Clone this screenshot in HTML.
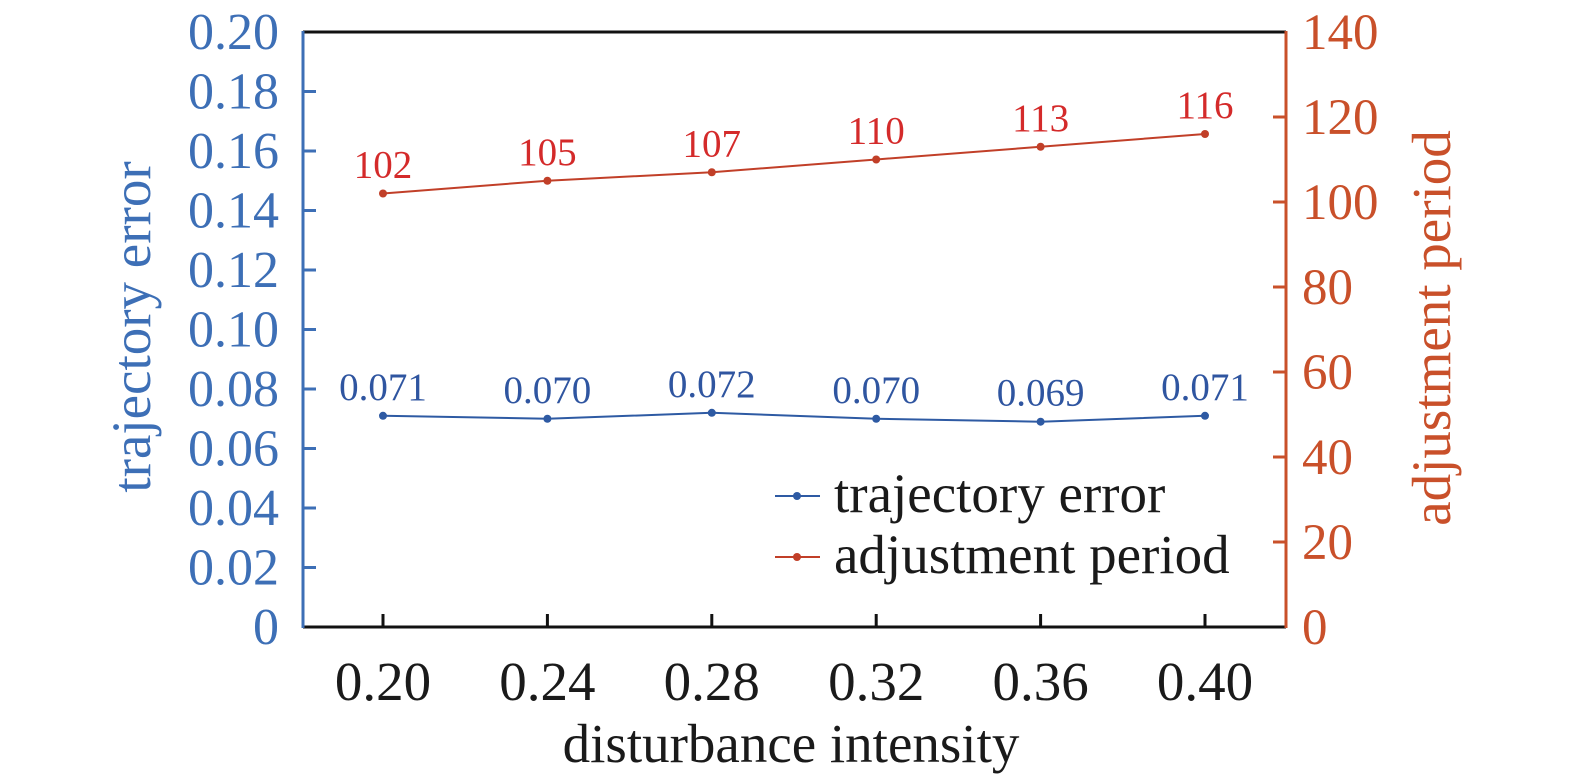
<!DOCTYPE html>
<html><head><meta charset="utf-8"><style>
body{margin:0;background:#fff}
svg{display:block;font-family:"Liberation Serif",serif}
</style></head><body>
<svg id="c" width="1575" height="778"></svg>
<script>
const categories=["0.20","0.24","0.28","0.32","0.36","0.40"];
const errorValues=[0.071,0.070,0.072,0.070,0.069,0.071];
const periodValues=[102,105,107,110,113,116];
const leftTicks=["0","0.02","0.04","0.06","0.08","0.10","0.12","0.14","0.16","0.18","0.20"];
const rightTicks=[0,20,40,60,80,100,120,140];
const L=303,R=1286,T=32,B=627;
const X0=383,DX=164.4;
const x=i=>X0+i*DX;
const yL=v=>B-(v/0.2)*(B-T);
const yR=v=>B-(v/140)*(B-T);
const svg=document.getElementById('c');
const NS='http://www.w3.org/2000/svg';
function mk(tag,attrs,parent){const e=document.createElementNS(NS,tag);for(const k in attrs)e.setAttribute(k,attrs[k]);(parent||svg).appendChild(e);return e;}
const BLUE='#3d6fb6',ORANGE='#c9502a',LBLUE='#2f55a0',LRED='#d42a2a',DBLUE='#2e5aa3',DRED='#c13f28';
let e=mk('line',{x1:L,y1:T,x2:R,y2:T,stroke:'#111','stroke-width':3});

e=mk('line',{x1:L,y1:B,x2:R,y2:B,stroke:'#111','stroke-width':3});

e=mk('line',{x1:L,y1:T-1,x2:L,y2:B+1,stroke:BLUE,'stroke-width':3});

e=mk('line',{x1:R,y1:T-1,x2:R,y2:B+1,stroke:ORANGE,'stroke-width':3});

leftTicks.forEach((t,i)=>{const v=parseFloat(t);const y=yL(v);
 if(i>0&&i<leftTicks.length-1){const tk=mk('line',{x1:L,y1:y,x2:L+13,y2:y,stroke:BLUE,'stroke-width':3});
 }
 const tx=mk('text',{x:279,y:y+17,'text-anchor':'end','font-size':52,fill:BLUE});tx.textContent=t;
 });
rightTicks.forEach((v,i)=>{const y=yR(v);
 if(i>0&&i<rightTicks.length-1){const tk=mk('line',{x1:R,y1:y,x2:R-13,y2:y,stroke:ORANGE,'stroke-width':3});
 }
 const tx=mk('text',{x:1302,y:y+17,'text-anchor':'start','font-size':51,fill:ORANGE});tx.textContent=v;
 });
categories.forEach((c,i)=>{const tk=mk('line',{x1:x(i),y1:B,x2:x(i),y2:B-13,stroke:'#111','stroke-width':3});
 
 const tx=mk('text',{x:x(i),y:700,'text-anchor':'middle','font-size':55,fill:'#1a1a1a'});tx.textContent=c;
 });
e=mk('text',{x:791,y:762,'text-anchor':'middle','font-size':55,fill:'#1a1a1a'});e.textContent='disturbance intensity';

e=mk('text',{x:0,y:0,'text-anchor':'middle','font-size':55,fill:BLUE,transform:'translate(150,327) rotate(-90)'});e.textContent='trajectory error';

e=mk('text',{x:0,y:0,'text-anchor':'middle','font-size':55,fill:ORANGE,transform:'translate(1450,328) rotate(-90)'});e.textContent='adjustment period';

function series(vals,yf,col,lblCol,fmt,name){
 e=mk('polyline',{points:vals.map((v,i)=>x(i)+','+yf(v)).join(' '),fill:'none',stroke:col,'stroke-width':2});
 
 vals.forEach((v,i)=>{const p=mk('circle',{cx:x(i),cy:yf(v),r:4,fill:col});
  
  const t=mk('text',{x:x(i),y:yf(v)-16,'text-anchor':'middle','font-size':39,fill:lblCol});t.textContent=fmt(v);
  });
}
series(errorValues,yL,DBLUE,LBLUE,v=>v.toFixed(3),'trajectory-error');
series(periodValues,yR,DRED,LRED,v=>String(v),'adjustment-period');
const lg=mk('g',{});
[['trajectory error',DBLUE,496],['adjustment period',DRED,557]].forEach(([t,c,y])=>{
 const l=mk('line',{x1:775,y1:y,x2:820,y2:y,stroke:c,'stroke-width':2},lg);
 const d=mk('circle',{cx:797,cy:y,r:4,fill:c},lg);
 const tx=mk('text',{x:834,y:y+16,'font-size':55,fill:'#1a1a1a'},lg);tx.textContent=t;
 });
</script>
</body></html>
